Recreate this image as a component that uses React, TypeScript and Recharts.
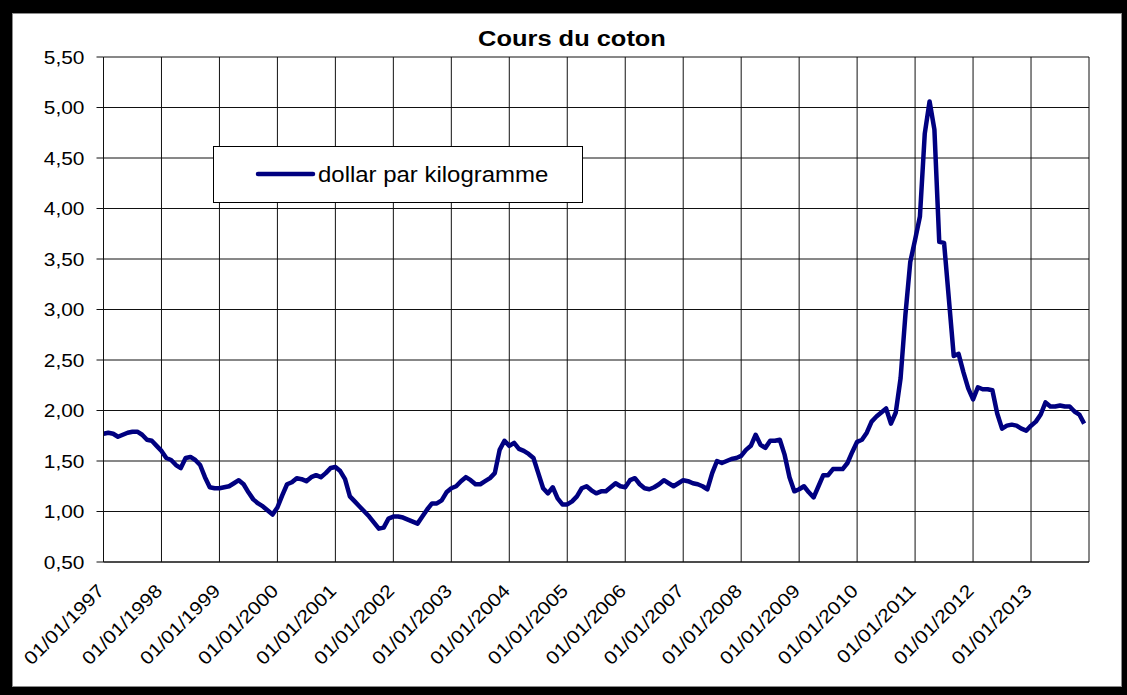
import { LineChart, Line, XAxis, YAxis, CartesianGrid, Legend } from 'recharts';

// monthly cotton price, dollar per kilogram
const p1997 = [1.77, 1.78, 1.77, 1.74, 1.76, 1.78, 1.79, 1.79, 1.76, 1.71, 1.70, 1.65];
const p1998 = [1.60, 1.53, 1.51, 1.46, 1.43, 1.53, 1.54, 1.51, 1.46, 1.34, 1.24, 1.23];
const p1999 = [1.23, 1.24, 1.25, 1.28, 1.31, 1.27, 1.19, 1.12, 1.08, 1.05, 1.01, 0.97];
const p2000 = [1.04, 1.16, 1.27, 1.29, 1.33, 1.32, 1.30, 1.34, 1.36, 1.34, 1.38, 1.43];
const p2001 = [1.44, 1.40, 1.32, 1.15, 1.10, 1.05, 1.00, 0.95, 0.89, 0.83, 0.84, 0.93];
const p2002 = [0.95, 0.95, 0.94, 0.92, 0.90, 0.88, 0.95, 1.02, 1.08, 1.08, 1.11, 1.19];
const p2003 = [1.23, 1.25, 1.30, 1.34, 1.31, 1.27, 1.27, 1.30, 1.33, 1.38, 1.61, 1.70];
const p2004 = [1.65, 1.68, 1.62, 1.60, 1.57, 1.53, 1.38, 1.23, 1.18, 1.24, 1.13, 1.07];
const p2005 = [1.07, 1.10, 1.15, 1.23, 1.25, 1.21, 1.18, 1.20, 1.20, 1.24, 1.28, 1.25];
const p2006 = [1.24, 1.31, 1.33, 1.27, 1.23, 1.22, 1.24, 1.27, 1.31, 1.28, 1.25, 1.28];
const p2007 = [1.31, 1.30, 1.28, 1.27, 1.25, 1.22, 1.38, 1.50, 1.48, 1.50, 1.52, 1.53];
const p2008 = [1.55, 1.61, 1.65, 1.76, 1.66, 1.63, 1.70, 1.70, 1.71, 1.56, 1.34, 1.20];
const p2009 = [1.22, 1.25, 1.19, 1.14, 1.25, 1.36, 1.36, 1.42, 1.42, 1.42, 1.48, 1.59];
const p2010 = [1.69, 1.71, 1.78, 1.89, 1.94, 1.98, 2.02, 1.87, 1.98, 2.32, 2.95, 3.47];
const p2011 = [3.69, 3.92, 4.74, 5.06, 4.78, 3.67, 3.66, 3.10, 2.54, 2.56, 2.38, 2.22];
const p2012 = [2.11, 2.23, 2.21, 2.21, 2.20, 1.97, 1.82, 1.85, 1.86, 1.85, 1.82, 1.80];
const p2013 = [1.85, 1.89, 1.96, 2.08, 2.04, 2.04, 2.05, 2.04, 2.04, 1.99, 1.96, 1.87];

const yearLabels = [
  '01/01/1997', '01/01/1998', '01/01/1999', '01/01/2000', '01/01/2001', '01/01/2002',
  '01/01/2003', '01/01/2004', '01/01/2005', '01/01/2006', '01/01/2007', '01/01/2008',
  '01/01/2009', '01/01/2010', '01/01/2011', '01/01/2012', '01/01/2013',
];
const xTicks = [0, 12, 24, 36, 48, 60, 72, 84, 96, 108, 120, 132, 144, 156, 168, 180, 192, 204];
const yTicks = [0.5, 1, 1.5, 2, 2.5, 3, 3.5, 4, 4.5, 5, 5.5];

const seriesName = 'dollar par kilogramme';
const title = 'Cours du coton';

const prices = [
  ...p1997, ...p1998, ...p1999, ...p2000, ...p2001, ...p2002, ...p2003, ...p2004, ...p2005,
  ...p2006, ...p2007, ...p2008, ...p2009, ...p2010, ...p2011, ...p2012, ...p2013,
];
const data = prices.map((price, month) => ({ month, price }));

const FONT = '"Liberation Sans", Arial, sans-serif';
const NAVY = '#000080';
const STRETCH = 1.13;

const YTick = ({ x, y, payload }: any) => (
  <text
    transform={`translate(${x},${y}) scale(${STRETCH},1)`}
    textAnchor="end"
    dy="0.36em"
    fontFamily={FONT}
    fontSize={18.5}
    fill="#000"
  >
    {Number(payload.value).toFixed(2).replace('.', ',')}
  </text>
);

const XTick = ({ x, y, payload }: any) => {
  const label = yearLabels[payload.value / 12];
  if (!label) return null;
  return (
    <text
      transform={`translate(${x + 2},${y + 22}) rotate(-45) scale(${STRETCH},1)`}
      textAnchor="end"
      fontFamily={FONT}
      fontSize={18.5}
      fill="#000"
    >
      {label}
    </text>
  );
};

const LegendBox = () => (
  <div
    style={{
      width: 370, height: 57, boxSizing: 'border-box', border: '1px solid #000',
      background: '#fff', position: 'relative',
    }}
  >
    <svg width={370} height={57} style={{ position: 'absolute', left: -1, top: -1 }}>
      <line x1={45} y1={28} x2={100} y2={28} stroke={NAVY} strokeWidth={4.5} strokeLinecap="round" />
      <text
        transform={`translate(105,28) scale(${STRETCH},1)`}
        dy="0.36em"
        fontFamily={FONT}
        fontSize={21.2}
        fill="#000"
      >
        {seriesName}
      </text>
    </svg>
  </div>
);

export default function App() {
  return (
    <div style={{ position: 'fixed', left: 0, top: 0, width: 1127, height: 695, background: '#000' }}>
      <div
        style={{
          position: 'absolute', left: 12, top: 13, width: 1110, height: 674,
          background: '#fff', border: '1px solid #8c8c8c', boxSizing: 'border-box',
        }}
      />
      <svg width={1127} height={60} style={{ position: 'absolute', left: 0, top: 0 }}>
        <text
          transform={`translate(572,46) scale(${STRETCH},1)`}
          textAnchor="middle"
          fontFamily={FONT}
          fontWeight="bold"
          fontSize={22.5}
          fill="#000"
        >
          {title}
        </text>
      </svg>
      <div style={{ position: 'absolute', left: 0, top: 0 }}>
        <LineChart width={1127} height={695} data={data} margin={{ top: 57, right: 38, left: 0, bottom: 0 }}>
          <CartesianGrid stroke="#111" strokeWidth={1} />
          <XAxis
            dataKey="month"
            type="number"
            domain={[0, 204]}
            ticks={xTicks}
            interval={0}
            height={133}
            tickLine={false}
            axisLine={{ stroke: '#111' }}
            tick={<XTick />}
          />
          <YAxis
            type="number"
            domain={[0.5, 5.5]}
            ticks={yTicks}
            interval={0}
            width={103.5}
            tickSize={7}
            tickMargin={12}
            tickLine={{ stroke: '#111' }}
            axisLine={{ stroke: '#111' }}
            tick={<YTick />}
          />
          <Legend
            layout="vertical"
            verticalAlign="middle"
            align="center"
            content={<LegendBox />}
            wrapperStyle={{ left: 213, top: 146, width: 370, height: 57 }}
          />
          <Line
            dataKey="price"
            name={seriesName}
            type="linear"
            stroke={NAVY}
            strokeWidth={4.5}
            strokeLinejoin="round"
            dot={false}
            activeDot={false}
            isAnimationActive={false}
          />
        </LineChart>
      </div>
    </div>
  );
}
